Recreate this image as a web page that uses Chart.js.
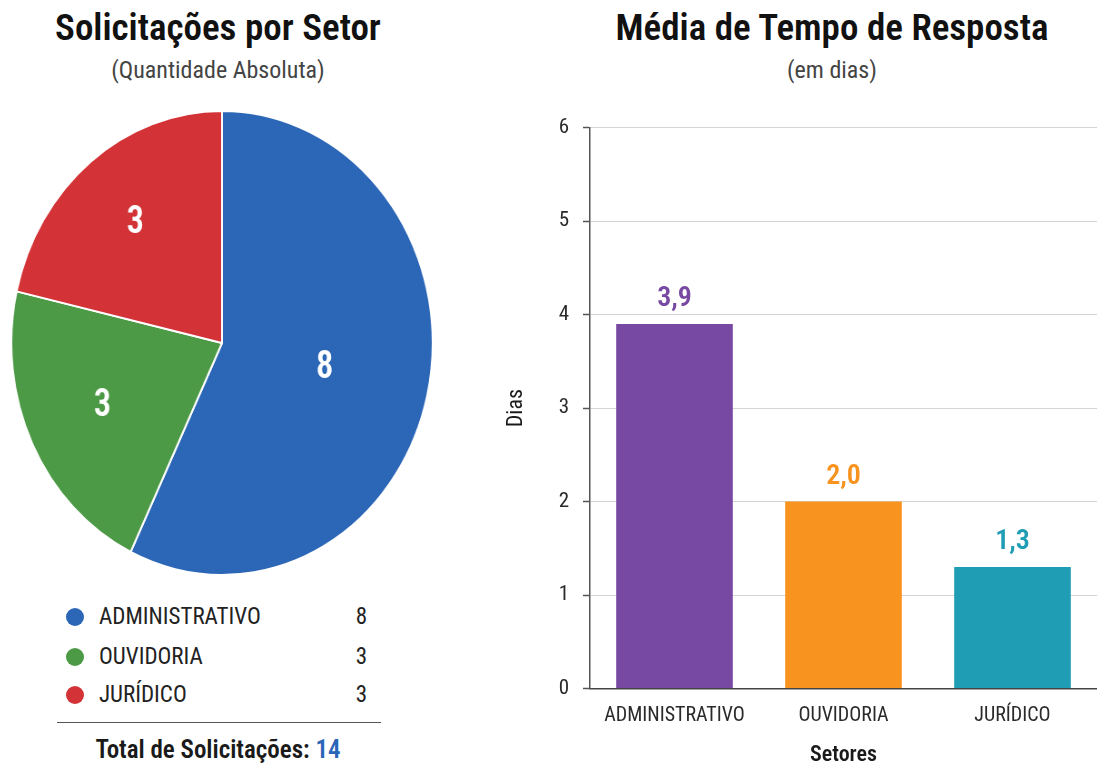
<!DOCTYPE html>
<html>
<head>
<meta charset="utf-8">
<title>Solicitações por Setor / Média de Tempo de Resposta</title>
<script src="https://cdn.jsdelivr.net/npm/chart.js"></script>
<style>
  html, body { margin: 0; padding: 0; background: #fff; }
  body { width: 1097px; height: 769px; position: relative; overflow: hidden;
         font-family: 'Roboto Condensed', sans-serif; color: #1a1a1a; }
  .titulo { position: absolute; text-align: center; font-weight: 600; font-size: 37px; line-height: 40px; color: #111; }
  .sub { position: absolute; text-align: center; font-size: 24px; line-height: 28px; color: #444; }
  #pieBox { position: absolute; left: -11px; top: 110px; width: 466px; height: 466px;
            transform: scaleX(0.908); transform-origin: 50% 50%; }
  #barBox { position: absolute; left: 495px; top: 101px; width: 602px; height: 668px; }
  .leg-row { position: absolute; left: 57px; width: 310px; height: 28px; font-size: 23px; line-height: 28px; color: #222; }
  .leg-row .dot { position: absolute; left: 9px; top: 5px; width: 18px; height: 18px; border-radius: 50%; }
  .leg-row .nome { position: absolute; left: 42px; }
  .leg-row .valor { position: absolute; right: 0; }
  #linha { position: absolute; left: 57px; top: 722px; width: 324px; height: 0; border-top: 1.5px solid #555; }
  #total { position: absolute; left: 0; width: 436px; top: 736px; text-align: center; font-size: 25px; line-height: 28px; font-weight: 600; color: #1a1a1a; }
  #total span { color: #2a66b7; }
</style>
</head>
<body>
  <div class="titulo" style="left:0;width:436px;top:8px">Solicitações por Setor</div>
  <div class="sub" style="left:0;width:436px;top:56px">(Quantidade Absoluta)</div>
  <div class="titulo" style="left:567px;width:530px;top:8px">Média de Tempo de Resposta</div>
  <div class="sub" style="left:567px;width:530px;top:56px">(em dias)</div>

  <div id="pieBox"><canvas id="pieChart"></canvas></div>
  <div id="legenda"></div>
  <div id="linha"></div>
  <div id="total"></div>

  <div id="barBox"><canvas id="barChart"></canvas></div>

<script>
// dados
const setores = ['ADMINISTRATIVO', 'OUVIDORIA', 'JURÍDICO'];
const solicitacoes = [8, 3, 3];
const tempoMedio = [3.9, 2.0, 1.3];
const diasMin = 0;
const diasMax = 6;
const diasPasso = 1;

// cores
const coresPizza = ['#2b66b7', '#4d9a46', '#d33236'];
const coresBarra = ['#7849a2', '#f7931e', '#1e9db5'];

const FAMILIA = "'Roboto Condensed', sans-serif";

// legenda em HTML
const legRowsY = [603, 643, 681];
const legenda = document.getElementById('legenda');
setores.forEach(function (s, i) {
  const row = document.createElement('div');
  row.className = 'leg-row';
  row.style.top = legRowsY[i] + 'px';
  row.innerHTML = '<span class="dot" style="background:' + coresPizza[i] + '"></span>' +
    '<span class="nome">' + s + '</span><span class="valor">' + solicitacoes[i] + '</span>';
  legenda.appendChild(row);
});
const total = solicitacoes.reduce(function (a, b) { return a + b; }, 0);
document.getElementById('total').innerHTML = 'Total de Solicitações: <span>' + total + '</span>';

// rótulos dentro das fatias
const raioRotulo = [0.5, 0.63, 0.66];
const rotulosPizza = {
  id: 'rotulosPizza',
  afterDatasetsDraw: function (chart) {
    const ctx = chart.ctx;
    const meta = chart.getDatasetMeta(0);
    ctx.save();
    ctx.font = '600 38px ' + FAMILIA;
    ctx.fillStyle = '#fff';
    ctx.textAlign = 'center';
    ctx.textBaseline = 'middle';
    meta.data.forEach(function (arc, i) {
      const p = arc.getProps(['x', 'y', 'startAngle', 'endAngle', 'outerRadius'], true);
      const a = (p.startAngle + p.endAngle) / 2;
      const r = p.outerRadius * raioRotulo[i];
      ctx.fillText(String(chart.data.datasets[0].data[i]), p.x + Math.cos(a) * r, p.y + Math.sin(a) * r);
    });
    ctx.restore();
  }
};

new Chart(document.getElementById('pieChart'), {
  type: 'pie',
  data: {
    labels: setores,
    datasets: [{
      data: solicitacoes,
      backgroundColor: coresPizza,
      borderColor: '#fff',
      borderWidth: 2
    }]
  },
  options: {
    responsive: true,
    maintainAspectRatio: false,
    animation: false,
    layout: { padding: 0 },
    plugins: { legend: { display: false }, tooltip: { enabled: false } }
  },
  plugins: [rotulosPizza]
});

// valores acima das barras
const valoresBarra = {
  id: 'valoresBarra',
  afterDatasetsDraw: function (chart) {
    const ctx = chart.ctx;
    const meta = chart.getDatasetMeta(0);
    ctx.save();
    ctx.font = '600 28px ' + FAMILIA;
    ctx.textAlign = 'center';
    ctx.textBaseline = 'middle';
    meta.data.forEach(function (bar, i) {
      const v = chart.data.datasets[0].data[i];
      ctx.fillStyle = coresBarra[i];
      ctx.fillText(v.toFixed(1).replace('.', ','), bar.x, bar.y - 25);
    });
    ctx.restore();
  }
};

new Chart(document.getElementById('barChart'), {
  type: 'bar',
  data: {
    labels: setores,
    datasets: [{
      data: tempoMedio,
      backgroundColor: coresBarra,
      categoryPercentage: 1,
      barPercentage: 0.69
    }]
  },
  options: {
    responsive: true,
    maintainAspectRatio: false,
    animation: false,
    layout: { padding: { top: 20, right: 0, bottom: 0, left: 0 } },
    plugins: { legend: { display: false }, tooltip: { enabled: false } },
    scales: {
      x: {
        grid: { display: false, drawTicks: false },
        border: { color: '#444', width: 1.5 },
        ticks: { color: '#2a2a2a', padding: 15, font: { family: FAMILIA, size: 20 } },
        title: {
          display: true, text: 'Setores', color: '#1a1a1a',
          font: { family: FAMILIA, size: 22, weight: '600' },
          padding: { top: 0, bottom: 0 }
        }
      },
      y: {
        min: diasMin,
        max: diasMax,
        afterFit: function (scale) { scale.width = 95; },
        ticks: { stepSize: diasPasso, color: '#2a2a2a', padding: 14, font: { family: FAMILIA, size: 21 } },
        grid: {
          color: '#d4d4d4', borderDash: [5, 4], lineWidth: 1,
          drawTicks: true, tickLength: 7, tickColor: '#555', tickBorderDash: [], tickWidth: 1.5
        },
        border: { color: '#555', width: 1.5 },
        title: {
          display: true, text: 'Dias', color: '#1a1a1a',
          font: { family: FAMILIA, size: 22 },
          padding: { top: 8, bottom: 0 }
        }
      }
    }
  },
  plugins: [valoresBarra]
});
</script>
</body>
</html>
